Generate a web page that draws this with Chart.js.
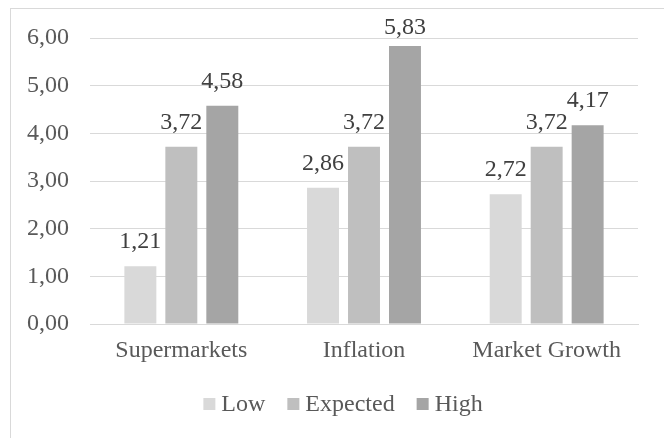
<!DOCTYPE html>
<html>
<head>
<meta charset="utf-8">
<script src="https://cdn.jsdelivr.net/npm/chart.js@4/dist/chart.umd.min.js"></script>
<style>
  html, body { margin: 0; padding: 0; background: #fff; }
  #wrap { width: 664px; height: 438px; position: relative; }
</style>
</head>
<body>
<div id="wrap"><canvas id="chart"></canvas></div>
<script>
// scenario values per category
const categories = ["Supermarkets", "Inflation", "Market Growth"];
const lowValues = [1.21, 2.86, 2.72];
const expectedValues = [3.72, 3.72, 3.72];
const highValues = [4.58, 5.83, 4.17];
const yTicks = [0, 1, 2, 3, 4, 5, 6];

const FONT = '"Liberation Serif", "Times New Roman", serif';
const fmt = v => v.toFixed(2).replace(".", ",");

// value labels above each bar, kept inside the top of the plot
const barLabels = {
  id: "barLabels",
  afterDatasetsDraw(chart) {
    const ctx = chart.ctx;
    ctx.save();
    ctx.font = "24px " + FONT;
    ctx.fillStyle = "#404040";
    ctx.textAlign = "center";
    ctx.textBaseline = "alphabetic";
    chart.data.datasets.forEach((ds, i) => {
      chart.getDatasetMeta(i).data.forEach((bar, j) => {
        const y = Math.max(bar.y - 18, chart.chartArea.top - 4);
        ctx.fillText(fmt(ds.data[j]), bar.x, y);
      });
    });
    ctx.restore();
  }
};

// outer frame + legend row under the axis
const frameAndLegend = {
  id: "frameAndLegend",
  afterDraw(chart) {
    const ctx = chart.ctx;
    ctx.save();
    ctx.strokeStyle = "#d9d9d9";
    ctx.lineWidth = 1;
    ctx.strokeRect(10.5, 8.5, 700, 500);

    ctx.font = "24px " + FONT;
    ctx.textBaseline = "middle";
    ctx.textAlign = "left";
    const box = 12, gap = 6, spacing = 22;
    const items = chart.data.datasets.map(ds => ({
      text: ds.label, color: ds.backgroundColor,
      w: box + gap + ctx.measureText(ds.label).width
    }));
    const total = items.reduce((s, it) => s + it.w, 0) + spacing * (items.length - 1);
    let x = 343 - total / 2;
    const cy = 404;
    items.forEach(it => {
      ctx.fillStyle = it.color;
      ctx.fillRect(x, cy - box / 2, box, box);
      ctx.fillStyle = "#595959";
      ctx.fillText(it.text, x + box + gap, cy + 1);
      x += it.w + spacing;
    });
    ctx.restore();
  }
};

new Chart(document.getElementById("chart"), {
  type: "bar",
  data: {
    labels: categories,
    datasets: [
      { label: "Low", data: lowValues, backgroundColor: "#d9d9d9" },
      { label: "Expected", data: expectedValues, backgroundColor: "#bfbfbf" },
      { label: "High", data: highValues, backgroundColor: "#a5a5a5" }
    ]
  },
  options: {
    responsive: true,
    maintainAspectRatio: false,
    animation: false,
    datasets: { bar: { categoryPercentage: 0.673, barPercentage: 0.78 } },
    layout: { padding: { left: 10, right: 26, top: 38, bottom: 74 } },
    plugins: {
      legend: { display: false },
      tooltip: { enabled: false }
    },
    scales: {
      x: {
        grid: { display: false, drawTicks: false },
        border: { display: true, color: "#d9d9d9", width: 1 },
        ticks: { color: "#595959", font: { family: FONT, size: 24 }, padding: 12 },
        afterFit(scale) { scale.height = 40; }
      },
      y: {
        min: 0,
        max: 6,
        afterBuildTicks(scale) { scale.ticks = yTicks.map(v => ({ value: v })); },
        grid: { color: "#d9d9d9", drawTicks: false },
        border: { display: false },
        ticks: {
          color: "#595959",
          font: { family: FONT, size: 24 },
          padding: 21,
          callback: v => fmt(v)
        },
        afterFit(scale) { scale.width = 80; }
      }
    }
  },
  plugins: [barLabels, frameAndLegend]
});
</script>
</body>
</html>
